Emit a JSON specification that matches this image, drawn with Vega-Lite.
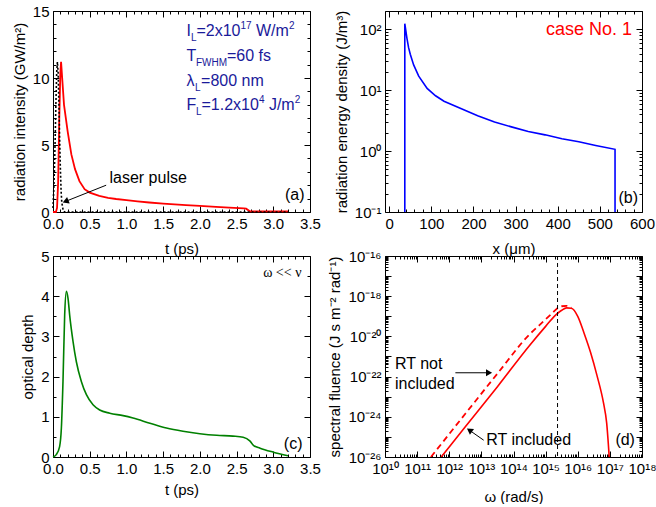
{
  "$schema": "https://vega.github.io/schema/vega-lite/v6.json",
  "background": "white",
  "padding": {"left": 12, "top": 4, "right": 5, "bottom": 0},
  "columns": 2,
  "spacing": {"row": 44, "column": 75},
  "bounds": "flush",
  "config": {
    "font": "Liberation Sans",
    "view": {"stroke": null},
    "axis": {
      "labelFont": "Liberation Sans", "labelFontSize": 15, "labelColor": "black",
      "titleFont": "Liberation Sans", "titleFontSize": 15, "titleFontWeight": 400, "titleColor": "black",
      "domainColor": "black", "tickColor": "black", "tickWidth": 1, "grid": false,
      "labelFlush": false, "labelOverlap": false, "labelPadding": 10, "titlePadding": 5
    },
    "text": {"font": "Liberation Sans"}
  },
  "concat": [
    {
      "width": 257, "height": 201,
      "resolve": {"axis": {"x": "independent", "y": "independent"}},
      "layer": [
        {
          "data": {"values": [
            {"t":0,"v":0},{"t":0.04,"v":0},{"t":0.055,"v":0.3},{"t":0.07,"v":2.2},{"t":0.085,"v":6.8},{"t":0.1,"v":10.4},{"t":0.11,"v":11.2},{"t":0.125,"v":10.0},{"t":0.15,"v":8.0},{"t":0.2,"v":6.0},{"t":0.25,"v":4.3},{"t":0.3,"v":3.2},{"t":0.36,"v":2.3},{"t":0.43,"v":1.7},{"t":0.5,"v":1.45},{"t":0.63,"v":1.2},{"t":0.75,"v":1.06},{"t":0.86,"v":0.97},{"t":1.0,"v":0.88},{"t":1.15,"v":0.79},{"t":1.31,"v":0.71},{"t":1.5,"v":0.63},{"t":1.81,"v":0.52},{"t":2.0,"v":0.46},{"t":2.22,"v":0.39},{"t":2.4,"v":0.33},{"t":2.6,"v":0.27},{"t":2.63,"v":0.25},{"t":2.68,"v":0.05},{"t":3.2,"v":0.05}
          ]},
          "mark": {"type": "line", "color": "#ff0000", "strokeWidth": 1.8},
          "encoding": {
            "x": {"field": "t", "type": "quantitative",
              "scale": {"domain": [0, 3.5], "nice": false, "zero": false},
              "axis": {"title": "t (ps)", "titlePadding": 7, "values": [0,0.1,0.2,0.3,0.4,0.5,0.6,0.7,0.8,0.9,1,1.1,1.2,1.3,1.4,1.5,1.6,1.7,1.8,1.9,2,2.1,2.2,2.3,2.4,2.5,2.6,2.7,2.8,2.9,3,3.1,3.2,3.3,3.4,3.5],
                "labelExpr": "abs(datum.value*2-round(datum.value*2))<0.001 ? format(datum.value,'.1f') : ''",
                "tickSize": {"condition": {"test": "abs(datum.value*2-round(datum.value*2))<0.001", "value": -6}, "value": -3}}},
            "y": {"field": "v", "type": "quantitative",
              "scale": {"domain": [0, 15], "nice": false},
              "axis": {"title": "radiation intensity (GW/m²)", "values": [0,1,2,3,4,5,6,7,8,9,10,11,12,13,14,15],
                "labelExpr": "datum.value%5==0 ? format(datum.value,'d') : ''",
                "tickSize": {"condition": {"test": "datum.value%5==0", "value": -6}, "value": -3}}}
          }
        },
        {
          "data": {"values": [{"t": 0, "v": 0}]},
          "mark": {"type": "point", "opacity": 0},
          "encoding": {
            "x": {"field": "t", "type": "quantitative",
              "axis": {"orient": "top", "title": null, "labels": false, "values": [0,0.1,0.2,0.3,0.4,0.5,0.6,0.7,0.8,0.9,1,1.1,1.2,1.3,1.4,1.5,1.6,1.7,1.8,1.9,2,2.1,2.2,2.3,2.4,2.5,2.6,2.7,2.8,2.9,3,3.1,3.2,3.3,3.4,3.5],
                "tickSize": {"condition": {"test": "abs(datum.value*2-round(datum.value*2))<0.001", "value": -6}, "value": -3}}},
            "y": {"field": "v", "type": "quantitative",
              "axis": {"orient": "right", "title": null, "labels": false, "values": [0,1,2,3,4,5,6,7,8,9,10,11,12,13,14,15],
                "tickSize": {"condition": {"test": "datum.value%5==0", "value": -6}, "value": -3}}}
          }
        },
        {
          "data": {"values": [
            {"t":0,"v":0.3},{"t":0.01,"v":1.6},{"t":0.02,"v":3.3},{"t":0.03,"v":5.6},{"t":0.04,"v":8.2},{"t":0.05,"v":10.4},{"t":0.06,"v":11.2},{"t":0.07,"v":10.4},{"t":0.08,"v":8.2},{"t":0.09,"v":5.6},{"t":0.1,"v":3.3},{"t":0.11,"v":1.6},{"t":0.12,"v":0.7},{"t":0.14,"v":0.08},{"t":0.16,"v":0},{"t":3.2,"v":0}
          ]},
          "mark": {"type": "line", "color": "black", "strokeWidth": 1.6, "strokeDash": [2, 2]},
          "encoding": {
            "x": {"field": "t", "type": "quantitative", "axis": null},
            "y": {"field": "v", "type": "quantitative", "axis": null}
          }
        },
        {
          "data": {"values": [{"t": 0.724, "v": 2.0, "t2": 0.184, "v2": 0.82}]},
          "mark": {"type": "rule", "color": "black", "strokeWidth": 1},
          "encoding": {
            "x": {"field": "t", "type": "quantitative", "axis": null},
            "y": {"field": "v", "type": "quantitative", "axis": null},
            "x2": {"field": "t2"}, "y2": {"field": "v2"}
          }
        },
        {
          "data": {"values": [{"t": 0.184, "v": 0.82}]},
          "mark": {"type": "point", "shape": "triangle", "filled": true, "color": "black", "opacity": 1, "size": 50, "angle": 248},
          "encoding": {
            "x": {"field": "t", "type": "quantitative", "axis": null},
            "y": {"field": "v", "type": "quantitative", "axis": null}
          }
        },
        {
          "data": {"values": [{"t": 0.769, "v": 2.2, "s": "laser pulse"}]},
          "mark": {"type": "text", "align": "left", "baseline": "alphabetic", "fontSize": 16, "color": "black"},
          "encoding": {
            "x": {"field": "t", "type": "quantitative", "axis": null},
            "y": {"field": "v", "type": "quantitative", "axis": null},
            "text": {"field": "s"}
          }
        },
        {
          "data": {"values": [{"t": 3.425, "v": 0.88, "s": "(a)"}]},
          "mark": {"type": "text", "align": "right", "baseline": "alphabetic", "fontSize": 16, "color": "black"},
          "encoding": {
            "x": {"field": "t", "type": "quantitative", "axis": null},
            "y": {"field": "v", "type": "quantitative", "axis": null},
            "text": {"field": "s"}
          }
        },
        {
          "data": {"values": [
            {"t":1.818,"v":13.10,"s":"I"},{"t":1.954,"v":13.10,"s":"=2x10"},{"t":2.763,"v":13.10,"s":"W/m"},
            {"t":1.818,"v":11.27,"s":"T"},{"t":2.370,"v":11.27,"s":"=60 fs"},
            {"t":1.818,"v":9.44,"s":"λ"},{"t":2.016,"v":9.44,"s":"=800 nm"},
            {"t":1.818,"v":7.61,"s":"F"},{"t":2.022,"v":7.61,"s":"=1.2x10"},{"t":2.940,"v":7.61,"s":"J/m"}
          ]},
          "mark": {"type": "text", "align": "left", "baseline": "alphabetic", "fontSize": 16, "color": "#1a1a9a"},
          "encoding": {
            "x": {"field": "t", "type": "quantitative", "axis": null},
            "y": {"field": "v", "type": "quantitative", "axis": null},
            "text": {"field": "s"}
          }
        },
        {
          "data": {"values": [
            {"t":1.879,"v":13.10,"s":"L"},{"t":1.947,"v":11.27,"s":"FWHM"},{"t":1.934,"v":9.44,"s":"L"},{"t":1.947,"v":7.61,"s":"L"}
          ]},
          "mark": {"type": "text", "align": "left", "baseline": "alphabetic", "fontSize": 10, "dy": 5, "color": "#1a1a9a"},
          "encoding": {
            "x": {"field": "t", "type": "quantitative", "axis": null},
            "y": {"field": "v", "type": "quantitative", "axis": null},
            "text": {"field": "s"}
          }
        },
        {
          "data": {"values": [
            {"t":2.553,"v":13.10,"s":"17"},{"t":3.214,"v":13.10,"s":"2"},{"t":2.805,"v":7.61,"s":"4"},{"t":3.293,"v":7.61,"s":"2"}
          ]},
          "mark": {"type": "text", "align": "left", "baseline": "alphabetic", "fontSize": 10, "dy": -7, "color": "#1a1a9a"},
          "encoding": {
            "x": {"field": "t", "type": "quantitative", "axis": null},
            "y": {"field": "v", "type": "quantitative", "axis": null},
            "text": {"field": "s"}
          }
        }
      ]
    },
    {
      "width": 257, "height": 201,
      "resolve": {"axis": {"x": "independent", "y": "independent"}},
      "layer": [
        {
          "data": {"values": [
            {"i":0,"x":37,"e":0.1},{"i":1,"x":37,"e":124},{"i":2,"x":39,"e":100},{"i":3,"x":42,"e":72},{"i":4,"x":46,"e":50},{"i":5,"x":50,"e":39},{"i":6,"x":58,"e":26},{"i":7,"x":70,"e":17},{"i":8,"x":90,"e":10.7},{"i":9,"x":110,"e":8.1},{"i":10,"x":130,"e":6.6},{"i":11,"x":170,"e":5.0},{"i":12,"x":210,"e":3.8},{"i":13,"x":250,"e":3.0},{"i":14,"x":290,"e":2.5},{"i":15,"x":330,"e":2.1},{"i":16,"x":370,"e":1.85},{"i":17,"x":410,"e":1.6},{"i":18,"x":450,"e":1.42},{"i":19,"x":490,"e":1.24},{"i":20,"x":536,"e":1.07},{"i":21,"x":536,"e":0.1}
          ]},
          "mark": {"type": "line", "color": "#0000ff", "strokeWidth": 1.6},
          "encoding": {
            "order": {"field": "i", "type": "quantitative"},
            "x": {"field": "x", "type": "quantitative",
              "scale": {"domain": [-10, 600], "nice": false, "zero": false},
              "axis": {"title": "x (μm)", "titlePadding": 7, "values": [0,20,40,60,80,100,120,140,160,180,200,220,240,260,280,300,320,340,360,380,400,420,440,460,480,500,520,540,560,580,600],
                "labelExpr": "datum.value%100==0 ? format(datum.value,'d') : ''",
                "tickSize": {"condition": {"test": "datum.value%100==0", "value": -6}, "value": -3}}},
            "y": {"field": "e", "type": "quantitative",
              "scale": {"type": "log", "domain": [0.1, 200], "nice": false},
              "axis": {"title": "radiation energy density (J/m³)", "values": [0.1,0.2,0.3,0.4,0.5,0.6,0.7,0.8,0.9,1,2,3,4,5,6,7,8,9,10,20,30,40,50,60,70,80,90,100,200],
                "labelExpr": "abs(log(datum.value)/LN10-round(log(datum.value)/LN10))<0.001 ? '10'+['⁻¹','⁰','¹','²'][round(log(datum.value)/LN10)+1] : ''",
                "tickSize": {"condition": {"test": "abs(log(datum.value)/LN10-round(log(datum.value)/LN10))<0.001", "value": -6}, "value": -3}}}
          }
        },
        {
          "data": {"values": [{"x": 0, "e": 1}]},
          "mark": {"type": "point", "opacity": 0},
          "encoding": {
            "x": {"field": "x", "type": "quantitative",
              "axis": {"orient": "top", "title": null, "labels": false, "values": [0,20,40,60,80,100,120,140,160,180,200,220,240,260,280,300,320,340,360,380,400,420,440,460,480,500,520,540,560,580,600],
                "tickSize": {"condition": {"test": "datum.value%100==0", "value": -6}, "value": -3}}},
            "y": {"field": "e", "type": "quantitative",
              "axis": {"orient": "right", "title": null, "labels": false, "values": [0.1,0.2,0.3,0.4,0.5,0.6,0.7,0.8,0.9,1,2,3,4,5,6,7,8,9,10,20,30,40,50,60,70,80,90,100,200],
                "tickSize": {"condition": {"test": "abs(log(datum.value)/LN10-round(log(datum.value)/LN10))<0.001", "value": -6}, "value": -3}}}
          }
        },
        {
          "data": {"values": [{"x": 576.3, "e": 80, "s": "case No. 1"}]},
          "mark": {"type": "text", "align": "right", "baseline": "alphabetic", "fontSize": 18, "color": "#ff0000"},
          "encoding": {
            "x": {"field": "x", "type": "quantitative", "axis": null},
            "y": {"field": "e", "type": "quantitative", "axis": null},
            "text": {"field": "s"}
          }
        },
        {
          "data": {"values": [{"x": 590.5, "e": 0.143, "s": "(b)"}]},
          "mark": {"type": "text", "align": "right", "baseline": "alphabetic", "fontSize": 16, "color": "black"},
          "encoding": {
            "x": {"field": "x", "type": "quantitative", "axis": null},
            "y": {"field": "e", "type": "quantitative", "axis": null},
            "text": {"field": "s"}
          }
        }
      ]
    },
    {
      "width": 257, "height": 201,
      "resolve": {"axis": {"x": "independent", "y": "independent"}},
      "layer": [
        {
          "data": {"values": [
            {"t":0,"v":0},{"t":0.045,"v":0.06},{"t":0.09,"v":0.26},{"t":0.114,"v":0.72},{"t":0.136,"v":1.88},{"t":0.159,"v":3.53},{"t":0.182,"v":4.12},{"t":0.205,"v":3.94},{"t":0.227,"v":3.53},{"t":0.273,"v":2.87},{"t":0.318,"v":2.37},{"t":0.386,"v":1.88},{"t":0.455,"v":1.55},{"t":0.545,"v":1.3},{"t":0.636,"v":1.17},{"t":0.773,"v":1.09},{"t":0.955,"v":1.03},{"t":1.09,"v":0.97},{"t":1.32,"v":0.84},{"t":1.545,"v":0.72},{"t":1.77,"v":0.64},{"t":2.0,"v":0.58},{"t":2.23,"v":0.54},{"t":2.45,"v":0.52},{"t":2.59,"v":0.49},{"t":2.68,"v":0.4},{"t":2.73,"v":0.29},{"t":2.82,"v":0.22},{"t":3.0,"v":0.12},{"t":3.2,"v":0.03}
          ]},
          "mark": {"type": "line", "color": "#008000", "strokeWidth": 1.6, "interpolate": "monotone"},
          "encoding": {
            "x": {"field": "t", "type": "quantitative",
              "scale": {"domain": [0, 3.5], "nice": false, "zero": false},
              "axis": {"title": "t (ps)", "titlePadding": 3, "values": [0,0.1,0.2,0.3,0.4,0.5,0.6,0.7,0.8,0.9,1,1.1,1.2,1.3,1.4,1.5,1.6,1.7,1.8,1.9,2,2.1,2.2,2.3,2.4,2.5,2.6,2.7,2.8,2.9,3,3.1,3.2,3.3,3.4,3.5],
                "labelExpr": "abs(datum.value*2-round(datum.value*2))<0.001 ? format(datum.value,'.1f') : ''",
                "tickSize": {"condition": {"test": "abs(datum.value*2-round(datum.value*2))<0.001", "value": -6}, "value": -3}}},
            "y": {"field": "v", "type": "quantitative",
              "scale": {"domain": [0, 5], "nice": false},
              "axis": {"title": "optical depth", "values": [0,0.5,1,1.5,2,2.5,3,3.5,4,4.5,5],
                "labelExpr": "datum.value%1==0 ? format(datum.value,'d') : ''",
                "tickSize": {"condition": {"test": "datum.value%1==0", "value": -6}, "value": -3}}}
          }
        },
        {
          "data": {"values": [{"t": 0, "v": 0}]},
          "mark": {"type": "point", "opacity": 0},
          "encoding": {
            "x": {"field": "t", "type": "quantitative",
              "axis": {"orient": "top", "title": null, "labels": false, "values": [0,0.1,0.2,0.3,0.4,0.5,0.6,0.7,0.8,0.9,1,1.1,1.2,1.3,1.4,1.5,1.6,1.7,1.8,1.9,2,2.1,2.2,2.3,2.4,2.5,2.6,2.7,2.8,2.9,3,3.1,3.2,3.3,3.4,3.5],
                "tickSize": {"condition": {"test": "abs(datum.value*2-round(datum.value*2))<0.001", "value": -6}, "value": -3}}},
            "y": {"field": "v", "type": "quantitative",
              "axis": {"orient": "right", "title": null, "labels": false, "values": [0,0.5,1,1.5,2,2.5,3,3.5,4,4.5,5],
                "tickSize": {"condition": {"test": "datum.value%1==0", "value": -6}, "value": -3}}}
          }
        },
        {
          "data": {"values": [{"t": 3.384, "v": 4.48, "s": "ω << ν"}]},
          "mark": {"type": "text", "align": "right", "baseline": "alphabetic", "fontSize": 14, "font": "Liberation Serif", "color": "black"},
          "encoding": {
            "x": {"field": "t", "type": "quantitative", "axis": null},
            "y": {"field": "v", "type": "quantitative", "axis": null},
            "text": {"field": "s"}
          }
        },
        {
          "data": {"values": [{"t": 3.398, "v": 0.21, "s": "(c)"}]},
          "mark": {"type": "text", "align": "right", "baseline": "alphabetic", "fontSize": 16, "color": "black"},
          "encoding": {
            "x": {"field": "t", "type": "quantitative", "axis": null},
            "y": {"field": "v", "type": "quantitative", "axis": null},
            "text": {"field": "s"}
          }
        }
      ]
    },
    {
      "width": 257, "height": 201,
      "resolve": {"axis": {"x": "independent", "y": "independent"}},
      "layer": [
        {
          "data": {"values": [
            {"w":5.62e11,"f":1e-26},{"w":3.16e12,"f":3.16e-25},{"w":3.16e13,"f":3.16e-23},{"w":3.16e14,"f":3.55e-21},{"w":1e15,"f":3.16e-20},{"w":2.0e15,"f":1.12e-19},{"w":3.16e15,"f":2.0e-19},{"w":4.47e15,"f":2.63e-19},{"w":6.31e15,"f":2.51e-19},{"w":1e16,"f":1e-19},{"w":1.585e16,"f":1.41e-20},{"w":2.51e16,"f":1.585e-21},{"w":3.98e16,"f":1.12e-22},{"w":6.31e16,"f":5.01e-24},{"w":7.94e16,"f":5.01e-25},{"w":9.55e16,"f":1e-26}
          ]},
          "mark": {"type": "line", "color": "#ff0000", "strokeWidth": 1.6, "interpolate": "monotone", "clip": true},
          "encoding": {
            "x": {"field": "w", "type": "quantitative",
              "scale": {"type": "log", "domain": [1e10, 1e18], "nice": false},
              "axis": {"title": "ω (rad/s)", "titlePadding": 10, "values": [1e10,2e10,3e10,4e10,5e10,6e10,7e10,8e10,9e10,1e11,2e11,3e11,4e11,5e11,6e11,7e11,8e11,9e11,1e12,2e12,3e12,4e12,5e12,6e12,7e12,8e12,9e12,1e13,2e13,3e13,4e13,5e13,6e13,7e13,8e13,9e13,1e14,2e14,3e14,4e14,5e14,6e14,7e14,8e14,9e14,1e15,2e15,3e15,4e15,5e15,6e15,7e15,8e15,9e15,1e16,2e16,3e16,4e16,5e16,6e16,7e16,8e16,9e16,1e17,2e17,3e17,4e17,5e17,6e17,7e17,8e17,9e17,1e18],
                "labelExpr": "abs(log(datum.value)/LN10-round(log(datum.value)/LN10))<0.001 ? '10'+['¹⁰','¹¹','¹²','¹³','¹⁴','¹⁵','¹⁶','¹⁷','¹⁸'][round(log(datum.value)/LN10)-10] : ''",
                "tickSize": {"condition": {"test": "abs(log(datum.value)/LN10-round(log(datum.value)/LN10))<0.001", "value": -6}, "value": -3}}},
            "y": {"field": "f", "type": "quantitative",
              "scale": {"type": "log", "domain": [1e-26, 1e-16], "nice": false},
              "axis": {"title": "spectral fluence (J s m⁻² rad⁻¹)", "values": [1e-26,2e-26,3e-26,4e-26,5e-26,6e-26,7e-26,8e-26,9e-26,1e-25,2e-25,3e-25,4e-25,5e-25,6e-25,7e-25,8e-25,9e-25,1e-24,2e-24,3e-24,4e-24,5e-24,6e-24,7e-24,8e-24,9e-24,1e-23,2e-23,3e-23,4e-23,5e-23,6e-23,7e-23,8e-23,9e-23,1e-22,2e-22,3e-22,4e-22,5e-22,6e-22,7e-22,8e-22,9e-22,1e-21,2e-21,3e-21,4e-21,5e-21,6e-21,7e-21,8e-21,9e-21,1e-20,2e-20,3e-20,4e-20,5e-20,6e-20,7e-20,8e-20,9e-20,1e-19,2e-19,3e-19,4e-19,5e-19,6e-19,7e-19,8e-19,9e-19,1e-18,2e-18,3e-18,4e-18,5e-18,6e-18,7e-18,8e-18,9e-18,1e-17,2e-17,3e-17,4e-17,5e-17,6e-17,7e-17,8e-17,9e-17,1e-16],
                "labelExpr": "abs(log(datum.value)/LN10-round(log(datum.value)/LN10))<0.001 ? ['10⁻²⁶','','10⁻²⁴','','10⁻²²','','10⁻²⁰','','10⁻¹⁸','','10⁻¹⁶'][round(log(datum.value)/LN10)+26] : ''",
                "tickSize": {"condition": {"test": "abs(log(datum.value)/LN10-round(log(datum.value)/LN10))<0.001", "value": -6}, "value": -3}}}
          }
        },
        {
          "data": {"values": [{"w": 1e10, "f": 1e-26}]},
          "mark": {"type": "point", "opacity": 0},
          "encoding": {
            "x": {"field": "w", "type": "quantitative",
              "axis": {"orient": "top", "title": null, "labels": false, "values": [1e10,2e10,3e10,4e10,5e10,6e10,7e10,8e10,9e10,1e11,2e11,3e11,4e11,5e11,6e11,7e11,8e11,9e11,1e12,2e12,3e12,4e12,5e12,6e12,7e12,8e12,9e12,1e13,2e13,3e13,4e13,5e13,6e13,7e13,8e13,9e13,1e14,2e14,3e14,4e14,5e14,6e14,7e14,8e14,9e14,1e15,2e15,3e15,4e15,5e15,6e15,7e15,8e15,9e15,1e16,2e16,3e16,4e16,5e16,6e16,7e16,8e16,9e16,1e17,2e17,3e17,4e17,5e17,6e17,7e17,8e17,9e17,1e18],
                "tickSize": {"condition": {"test": "abs(log(datum.value)/LN10-round(log(datum.value)/LN10))<0.001", "value": -6}, "value": -3}}},
            "y": {"field": "f", "type": "quantitative",
              "axis": {"orient": "right", "title": null, "labels": false, "values": [1e-26,2e-26,3e-26,4e-26,5e-26,6e-26,7e-26,8e-26,9e-26,1e-25,2e-25,3e-25,4e-25,5e-25,6e-25,7e-25,8e-25,9e-25,1e-24,2e-24,3e-24,4e-24,5e-24,6e-24,7e-24,8e-24,9e-24,1e-23,2e-23,3e-23,4e-23,5e-23,6e-23,7e-23,8e-23,9e-23,1e-22,2e-22,3e-22,4e-22,5e-22,6e-22,7e-22,8e-22,9e-22,1e-21,2e-21,3e-21,4e-21,5e-21,6e-21,7e-21,8e-21,9e-21,1e-20,2e-20,3e-20,4e-20,5e-20,6e-20,7e-20,8e-20,9e-20,1e-19,2e-19,3e-19,4e-19,5e-19,6e-19,7e-19,8e-19,9e-19,1e-18,2e-18,3e-18,4e-18,5e-18,6e-18,7e-18,8e-18,9e-18,1e-17,2e-17,3e-17,4e-17,5e-17,6e-17,7e-17,8e-17,9e-17,1e-16],
                "tickSize": {"condition": {"test": "abs(log(datum.value)/LN10-round(log(datum.value)/LN10))<0.001", "value": -6}, "value": -3}}}
          }
        },
        {
          "data": {"values": [
            {"w":2.69e11,"f":1e-26},{"w":3.16e12,"f":1.41e-24},{"w":3.16e13,"f":1.41e-22},{"w":3.16e14,"f":1.26e-20},{"w":6.31e14,"f":3.55e-20},{"w":1e15,"f":7.08e-20},{"w":1.585e15,"f":1.41e-19},{"w":2.24e15,"f":2.4e-19},{"w":3.16e15,"f":3.16e-19},{"w":4.47e15,"f":3.31e-19},{"w":6.31e15,"f":2.63e-19}
          ]},
          "mark": {"type": "line", "color": "#ff0000", "strokeWidth": 1.8, "strokeDash": [6, 4], "interpolate": "monotone", "clip": true},
          "encoding": {
            "x": {"field": "w", "type": "quantitative", "axis": null},
            "y": {"field": "f", "type": "quantitative", "axis": null}
          }
        },
        {
          "data": {"values": [{"w": 2.35e15}]},
          "mark": {"type": "rule", "color": "black", "strokeWidth": 1, "strokeDash": [4, 3]},
          "encoding": {
            "x": {"field": "w", "type": "quantitative", "axis": null}
          }
        },
        {
          "data": {"values": [
            {"w": 1.55e12, "f": 1.55e-22, "w2": 1.61e13, "f2": 1.55e-22},
            {"w": 1.18e13, "f": 6.86e-26, "w2": 4.52e12, "f2": 2.01e-25}
          ]},
          "mark": {"type": "rule", "color": "black", "strokeWidth": 1},
          "encoding": {
            "x": {"field": "w", "type": "quantitative", "axis": null},
            "y": {"field": "f", "type": "quantitative", "axis": null},
            "x2": {"field": "w2"}, "y2": {"field": "f2"}
          }
        },
        {
          "data": {"values": [{"w": 1.61e13, "f": 1.55e-22}]},
          "mark": {"type": "point", "shape": "triangle", "filled": true, "color": "black", "opacity": 1, "size": 50, "angle": 90},
          "encoding": {
            "x": {"field": "w", "type": "quantitative", "axis": null},
            "y": {"field": "f", "type": "quantitative", "axis": null}
          }
        },
        {
          "data": {"values": [{"w": 4.52e12, "f": 2.01e-25}]},
          "mark": {"type": "point", "shape": "triangle", "filled": true, "color": "black", "opacity": 1, "size": 50, "angle": 305},
          "encoding": {
            "x": {"field": "w", "type": "quantitative", "axis": null},
            "y": {"field": "f", "type": "quantitative", "axis": null}
          }
        },
        {
          "data": {"values": [
            {"w": 2.05e10, "f": 2.51e-22, "s": "RT not"},
            {"w": 2.05e10, "f": 2.29e-23, "s": "included"},
            {"w": 1.42e13, "f": 3.9e-26, "s": "RT included"}
          ]},
          "mark": {"type": "text", "align": "left", "baseline": "alphabetic", "fontSize": 16, "color": "black"},
          "encoding": {
            "x": {"field": "w", "type": "quantitative", "axis": null},
            "y": {"field": "f", "type": "quantitative", "axis": null},
            "text": {"field": "s"}
          }
        },
        {
          "data": {"values": [{"w": 6.03e17, "f": 3.9e-26, "s": "(d)"}]},
          "mark": {"type": "text", "align": "right", "baseline": "alphabetic", "fontSize": 16, "color": "black"},
          "encoding": {
            "x": {"field": "w", "type": "quantitative", "axis": null},
            "y": {"field": "f", "type": "quantitative", "axis": null},
            "text": {"field": "s"}
          }
        }
      ]
    }
  ]
}
